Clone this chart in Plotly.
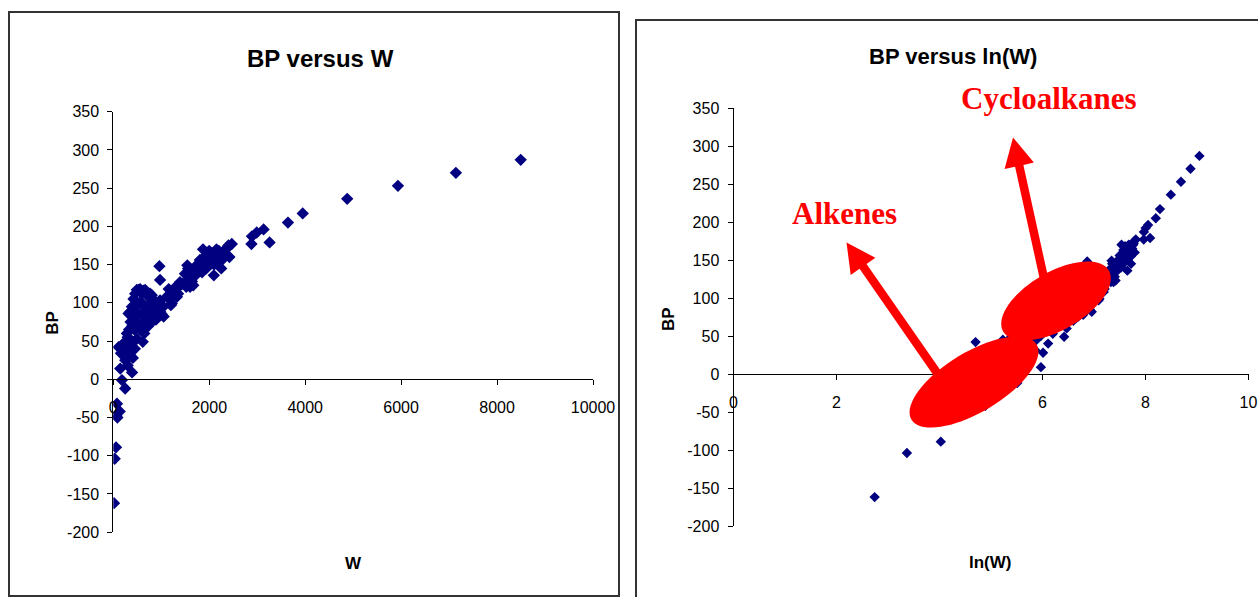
import numpy as np
import plotly.graph_objects as go

# ---------------- data (W index, boiling point) ----------------
W = [15.5, 29, 56, 85, 62, 76, 133, 247, 180, 391, 145, 249, 353, 187, 110, 214, 160, 300, 330,
     408, 450, 493, 614, 645, 735, 889, 1050, 1200, 1326, 1600, 1703, 1940, 2096, 2208, 2368, 2470,
     2880, 2890, 2990, 3133, 3258, 3641, 3949, 4876, 5934, 7142, 8493, 961, 975,
     284, 318, 353, 388, 422, 456, 491, 525, 560, 595, 629, 664, 698, 733, 768, 802, 837, 870, 906,
     941, 975, 1010, 1044,
     270, 300, 330, 360, 360, 390, 400, 420, 440, 470, 470, 500, 510, 540, 560, 570, 600, 620, 650,
     680, 690, 720, 740, 780, 800, 830, 860, 900, 940, 980, 1010,
     1114, 1155, 1218, 1287, 1390, 1250, 1320, 1180, 1350,
     1494, 1543, 1667, 1521, 1805, 1580, 1620, 1700, 1750, 1450, 1560, 1640, 1720,
     1870, 1940, 2420, 2000, 2050, 2100, 2150, 2200, 2250, 2300, 2350, 2000, 1950, 2150, 2250, 2400,
     2100, 1900, 1850]
BP = [-162, -104, -89, -50, -47, -32, -42, -12, -1, 9, 14, 25, 31, 45, 42, 47, 34, 18, 40,
      28, 40, 53, 49, 60, 70, 78, 82, 97, 108, 121, 141, 163, 136, 157, 172, 177,
      177, 187, 192, 196, 179, 205, 217, 236, 253, 270, 287, 148, 130,
      60, 86, 88, 95, 105, 112, 117, 117, 118, 112, 116, 117, 113, 108, 112, 110, 104, 100, 97,
      101, 103, 97, 95,
      35, 55, 65, 45, 75, 50, 70, 85, 65, 75, 95, 85, 70, 100, 65, 85, 100, 75, 95,
      70, 88, 80, 97, 90, 75, 88, 95, 85, 90, 88, 85,
      108, 118, 99, 120, 127, 110, 118, 105, 112,
      138, 149, 123, 121, 156, 130, 143, 135, 150, 125, 145, 128, 145,
      170, 145, 160, 155, 165, 150, 160, 168, 155, 165, 170, 168, 160, 170, 145, 175,
      162, 150, 140]
lnW = np.log(np.array(W, dtype=float))

LEFT_X_RANGE = [0, 10000]
LEFT_X_TICKS = [0, 2000, 4000, 6000, 8000, 10000]
RIGHT_X_RANGE = [0, 10]
RIGHT_X_TICKS = [0, 2, 4, 6, 8, 10]
Y_RANGE = [-200, 350]
Y_TICKS = list(range(-200, 351, 50))

FW, FH = 1258, 597


def px(x):
    return x / FW


def py(y):
    return 1 - y / FH


# plot-area pixel boxes
L = dict(x0=113.3, x1=593.0, ytop=111.7, ybot=532.2)
R = dict(x0=733.5, x1=1248.5, ytop=108.0, ybot=526.0)

NAVY = "#000080"
FONT = "Arial, Liberation Sans, sans-serif"

fig = go.Figure()
fig.add_trace(go.Scatter(x=W, y=BP, mode="markers", xaxis="x", yaxis="y",
                         marker=dict(symbol="diamond", size=9.5, color=NAVY, line=dict(width=0)),
                         showlegend=False, hoverinfo="x+y"))
fig.add_trace(go.Scatter(x=lnW, y=BP, mode="markers", xaxis="x2", yaxis="y2",
                         marker=dict(symbol="diamond", size=8, color=NAVY, line=dict(width=0)),
                         showlegend=False, hoverinfo="x+y"))

tickfont = dict(family=FONT, size=16, color="black")
axcommon = dict(showgrid=False, zeroline=False, showline=True, linecolor="black", linewidth=1,
                ticks="outside", ticklen=5, tickcolor="black", tickwidth=1, tickfont=tickfont,
                automargin=False, tickmode="array")


def labels(vals):
    return [str(v) for v in vals]


def zero_pos(box):
    frac = (0 - Y_RANGE[0]) / (Y_RANGE[1] - Y_RANGE[0])
    y0 = py(box["ybot"])
    y1 = py(box["ytop"])
    return y0 + frac * (y1 - y0)


fig.update_layout(
    width=FW, height=FH, margin=dict(l=0, r=0, t=0, b=0, autoexpand=False),
    paper_bgcolor="white", plot_bgcolor="rgba(0,0,0,0)",
    xaxis=dict(domain=[px(L["x0"]), px(L["x1"])], range=LEFT_X_RANGE, tickvals=LEFT_X_TICKS,
               ticktext=labels(LEFT_X_TICKS), ticklabelstandoff=9,
               anchor="free", position=zero_pos(L), **axcommon),
    yaxis=dict(domain=[py(L["ybot"]), py(L["ytop"])], range=Y_RANGE, tickvals=Y_TICKS,
               ticktext=labels(Y_TICKS), ticklabelstandoff=5,
               anchor="x", **axcommon),
    xaxis2=dict(domain=[px(R["x0"]), px(R["x1"])], range=RIGHT_X_RANGE, tickvals=RIGHT_X_TICKS,
                ticktext=labels(RIGHT_X_TICKS), ticklabelstandoff=9,
                anchor="free", position=zero_pos(R), **axcommon),
    yaxis2=dict(domain=[py(R["ybot"]), py(R["ytop"])], range=Y_RANGE, tickvals=Y_TICKS,
                ticktext=labels(Y_TICKS), ticklabelstandoff=5,
                anchor="x2", **axcommon),
)

shapes = []
# chart frames
shapes.append(dict(type="rect", xref="paper", yref="paper", x0=px(9), x1=px(619), y0=py(596), y1=py(12),
                   line=dict(color="#333333", width=2), fillcolor="rgba(0,0,0,0)", layer="below"))
shapes.append(dict(type="rect", xref="paper", yref="paper", x0=px(636), x1=px(1275), y0=py(615), y1=py(20),
                   line=dict(color="#333333", width=2), fillcolor="rgba(0,0,0,0)", layer="below"))


def path_from_pixels(pts):
    s = "M " + " L ".join(f"{px(x):.5f},{py(y):.5f}" for x, y in pts) + " Z"
    return s


def ellipse(cx, cy, a, b, ang_deg, n=72):
    t = np.linspace(0, 2 * np.pi, n, endpoint=False)
    th = np.radians(ang_deg)
    ux, uy = np.cos(th), -np.sin(th)
    vx, vy = np.sin(th), np.cos(th)
    return [(cx + a * np.cos(k) * ux + b * np.sin(k) * vx, cy + a * np.cos(k) * uy + b * np.sin(k) * vy)
            for k in t]


def arrow(tail, tip, w=8.5, hl=29, hw=30):
    tx, ty = tail
    hx, hy = tip
    d = np.array([hx - tx, hy - ty], float)
    d /= np.linalg.norm(d)
    n = np.array([-d[1], d[0]])
    T = np.array(tail, float)
    P = np.array(tip, float)
    B = P - d * hl
    pts = [T + n * w / 2, B + n * w / 2, B + n * hw / 2, P, B - n * hw / 2, B - n * w / 2, T - n * w / 2]
    return [tuple(p) for p in pts]


RED = "#FF0000"
for pts in [arrow((942, 380), (846.5, 242.5)), arrow((1045, 283), (1013, 137.5)),
            ellipse(974, 382, 73, 30, 31), ellipse(1056, 301, 61, 29, 30)]:
    shapes.append(dict(type="path", xref="paper", yref="paper", path=path_from_pixels(pts),
                       fillcolor=RED, line=dict(width=0), layer="above"))
fig.update_layout(shapes=shapes)

ann = []


def text(x, y, s, size, bold=True, color="black", family=FONT, angle=0):
    ann.append(dict(x=px(x), y=py(y), xref="paper", yref="paper", text=s, showarrow=False,
                    xanchor="center", yanchor="middle", textangle=angle,
                    font=dict(family=family, size=size, color=color, weight="bold" if bold else "normal")))


text(320.5, 59, "BP versus W", 24)
text(953, 57, "BP versus ln(W)", 22)
text(51.7, 323, "BP", 17, angle=-90)
text(668, 319, "BP", 17, angle=-90)
text(353.5, 563, "W", 17)
text(990, 562, "ln(W)", 17)
SERIF = "Times New Roman, Liberation Serif, serif"
text(1049, 98, "Cycloalkanes", 31, color=RED, family=SERIF)
text(844.5, 213, "Alkenes", 31, color=RED, family=SERIF)
fig.update_layout(annotations=ann)

fig.write_html(
    "out.html",
    config={"displayModeBar": False},
    post_script="document.body.style.margin='0';document.body.style.overflow='hidden';",
)
